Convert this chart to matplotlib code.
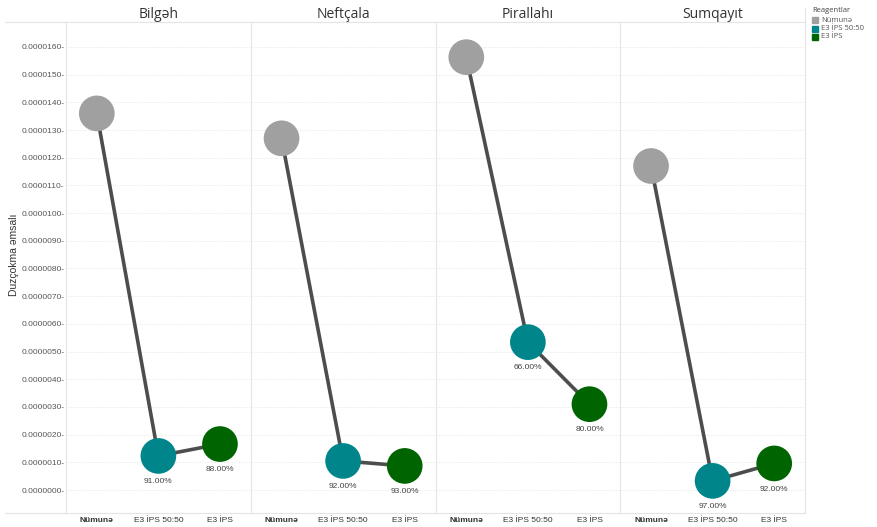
import matplotlib.pyplot as plt
import numpy as np

plt.rcParams["font.family"] = ["Liberation Sans", "DejaVu Sans"]

# =======================
# DATA
# =======================
REGIONS = ["Bilgəh", "Neftçala", "Pirallahı", "Sumqayıt"]
CATEGORIES = ["Nümunə", "E3 İPS 50:50", "E3 İPS"]
VALUES = {
    "Bilgəh":    [1.36e-5, 1.23e-6, 1.66e-6],
    "Neftçala":  [1.27e-5, 1.05e-6, 0.87e-6],
    "Pirallahı": [1.563e-5, 5.34e-6, 3.10e-6],
    "Sumqayıt":  [1.17e-5, 0.33e-6, 0.96e-6],
}
PCT_LABELS = {
    "Bilgəh":    ["", "91.00%", "88.00%"],
    "Neftçala":  ["", "92.00%", "93.00%"],
    "Pirallahı": ["", "66.00%", "80.00%"],
    "Sumqayıt":  ["", "97.00%", "92.00%"],
}
YTICKS = np.arange(0, 17) * 1e-6
COLORS = ["#A0A0A0", "#00868A", "#006400"]

W, H = 877, 527
fig = plt.figure(figsize=(W / 100, H / 100), dpi=100)
fig.patch.set_facecolor("white")

left_px, right_px, top_px, bot_px = 66, 805, 22, 513
panel_w = (right_px - left_px) / 4

for i, reg in enumerate(REGIONS):
    ax = fig.add_axes([(left_px + i * panel_w) / W, 1 - bot_px / H,
                       panel_w / W, (bot_px - top_px) / H])
    ax.set_xlim(0, 3)
    ax.set_ylim(-0.83e-6, 16.9e-6)
    for s in ["top", "bottom", "right"]:
        ax.spines[s].set_visible(False)
    ax.spines["left"].set_color("#E4E4E4")
    ax.spines["left"].set_linewidth(0.8)
    ax.set_yticks(YTICKS)
    ax.yaxis.grid(True, color="#E6E6E6", linestyle=(0, (1, 1.5)), linewidth=0.7)
    ax.set_axisbelow(True)
    if i == 0:
        ax.set_yticklabels([f"{v:.7f}-" for v in YTICKS], fontsize=6, color="#555555")
        ax.tick_params(axis="y", length=0, pad=1)
    else:
        ax.tick_params(axis="y", length=0, labelleft=False)

    xs = np.array([0.5, 1.5, 2.5])
    ys = VALUES[reg]
    ax.plot(xs, ys, color="#4d4d4d", linewidth=2.6, zorder=2)
    ax.scatter(xs, ys, s=660, c=COLORS, zorder=3, edgecolors="none")
    for x, y, lab in zip(xs, ys, PCT_LABELS[reg]):
        if lab:
            ax.annotate(lab, (x, y), xytext=(0, -16), textcoords="offset points",
                        ha="center", va="top", fontsize=6, color="#444444")

    ax.set_xticks(xs)
    ax.set_xticklabels(CATEGORIES, fontsize=6, color="#333333")
    ax.get_xticklabels()[0].set_fontweight("bold")
    ax.tick_params(axis="x", length=0, pad=3)
    ax.set_title(reg, fontsize=10, color="#333333", pad=3, family="Open Sans")

# y label
fig.text(14 / W, 1 - 255 / H, "Duzçokma əmsalı", rotation=90, fontsize=7.5,
         color="#333333", ha="center", va="center")

# horizontal frame lines
fig.add_artist(plt.Line2D([5 / W, right_px / W], [1 - top_px / H] * 2,
                          color="#E4E4E4", linewidth=0.8))
fig.add_artist(plt.Line2D([5 / W, right_px / W], [1 - bot_px / H] * 2,
                          color="#E4E4E4", linewidth=0.8))
fig.add_artist(plt.Line2D([right_px / W] * 2, [1 - 8 / H, 1 - bot_px / H],
                          color="#E4E4E4", linewidth=0.8))

# legend
fig.text(812 / W, 1 - 11 / H, "Reagentlar", fontsize=5.5, color="#444444",
         va="center", family="Open Sans")
for k, (cat, col) in enumerate(zip(CATEGORIES, COLORS)):
    yk = 1 - (20 + k * 8.5) / H
    fig.patches.append(plt.Rectangle((812 / W, yk - 3 / H), 6 / W, 6 / H,
                                     transform=fig.transFigure, color=col))
    fig.text(821 / W, yk, cat, fontsize=5.5, color="#555555", va="center",
             family="Open Sans")

plt.savefig("out.png", dpi=100)
